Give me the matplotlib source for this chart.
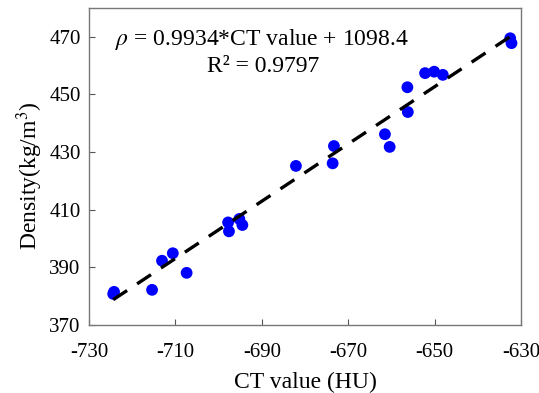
import matplotlib
matplotlib.use("Agg")
import matplotlib.pyplot as plt
import numpy as np

# Measured CT values (HU) and corresponding densities (kg/m^3)
ct_values = [-632.5, -632.2, -652.2, -650.1, -648.1, -656.3, -656.2, -661.5,
             -660.4, -673.3, -673.6, -682.1, -695.2, -697.8, -694.5, -697.6,
             -710.6, -713.1, -707.4, -715.4, -724.2, -724.4]
densities = [469.5, 467.8, 457.4, 457.9, 456.8, 452.5, 443.9, 436.2,
             431.8, 432.1, 426.1, 425.2, 406.8, 405.6, 404.7, 402.5,
             394.9, 392.3, 388.1, 382.2, 381.5, 380.8]

slope = 0.9934
intercept = 1098.4
r_squared = 0.9797

x_ticks = [-730, -710, -690, -670, -650, -630]
y_ticks = [370, 390, 410, 430, 450, 470]

plt.rcParams['font.family'] = ['Liberation Serif', 'DejaVu Serif']
plt.rcParams['mathtext.fontset'] = 'stix'
plt.rcParams['axes.unicode_minus'] = False

W, H = 539, 393
fig = plt.figure(figsize=(W / 100, H / 100), dpi=100)
ax = fig.add_axes([89 / W, 1 - 325 / H, (521 - 89) / W, (325 - 8) / H])

ax.scatter(ct_values, densities, s=72, color='#0000ff', edgecolors='none', zorder=2)

fit_x = np.array([min(ct_values), max(ct_values)])
ax.plot(fit_x, slope * fit_x + intercept, color='black', lw=2.4,
        linestyle=(0, (5, 3.6)), zorder=3)

ax.set_xlim(-730, -630)
ax.set_ylim(370, 480)
ax.set_xticks(x_ticks)
ax.set_yticks(y_ticks)
ax.tick_params(direction='in', labelsize=15, length=4, color='#555555', width=0.8)
ax.tick_params(axis='x', pad=13)
ax.tick_params(axis='y', pad=6)

for sp in ax.spines.values():
    sp.set_color('#777777')
    sp.set_linewidth(1.0)

ax.set_xlabel('CT value (HU)', fontsize=17)
ax.set_ylabel('Density(kg/m$^3$)', fontsize=17)
ax.xaxis.set_label_coords(0.5, -0.18)
ax.yaxis.set_label_coords(-0.137, 0.47)
ax.xaxis.label.set_va('center')
ax.yaxis.label.set_va('center')

ax.text(262 / W, 1 - 40 / H, r'$\rho$ = %.4f*CT value + %.1f' % (slope, intercept),
        transform=fig.transFigure, fontsize=17, ha='center', va='center')
ax.text(263 / W, 1 - 67 / H, 'R² = %.4f' % r_squared, transform=fig.transFigure,
        fontsize=17, ha='center', va='center')

fig.savefig('out.png', dpi=100)
